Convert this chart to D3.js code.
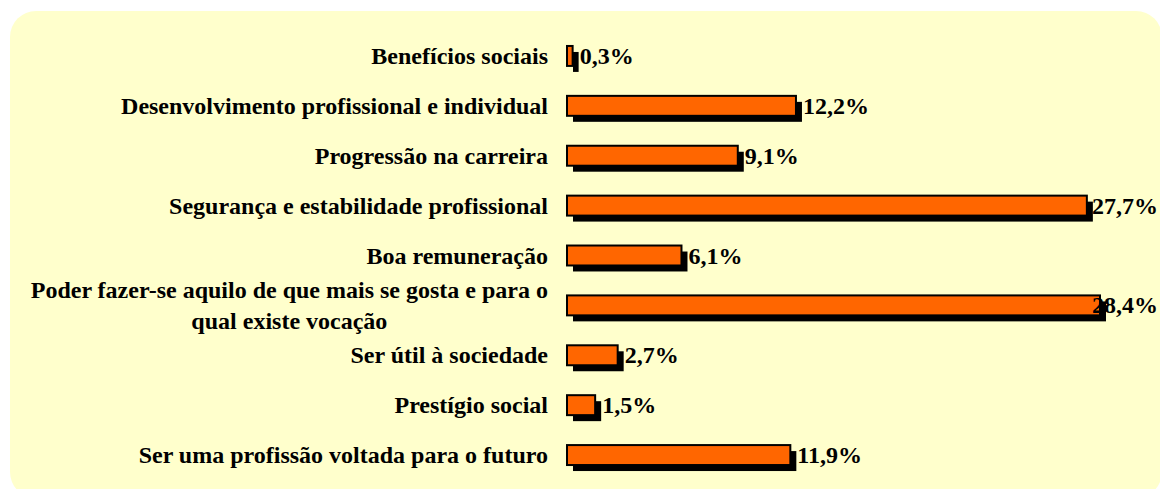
<!DOCTYPE html>
<html>
<head>
<meta charset="utf-8">
<script src="https://cdn.jsdelivr.net/npm/d3@7"></script>
<style>
    body { margin: 0; background: #fff; }
    svg { display: block; }
</style>
</head>
<body>
<div id="chart"></div>
<script>
// data
const categories = [
    'Benefícios sociais',
    'Desenvolvimento profissional e individual',
    'Progressão na carreira',
    'Segurança e estabilidade profissional',
    'Boa remuneração',
    'Poder fazer-se aquilo de que mais se gosta e para o\nqual existe vocação',
    'Ser útil à sociedade',
    'Prestígio social',
    'Ser uma profissão voltada para o futuro'
];
const values = [0.3, 12.2, 9.1, 27.7, 6.1, 28.4, 2.7, 1.5, 11.9];

const width = 1160;
const height = 489;
const font = '"Liberation Serif", "Times New Roman", serif';
const fontSize = 24;

const svg = d3.select('#chart').append('svg')
    .attr('width', width)
    .attr('height', height);

// panel
svg.append('rect')
    .attr('x', 10)
    .attr('y', 11)
    .attr('width', 1152)
    .attr('height', 487)
    .attr('rx', 26)
    .attr('ry', 26)
    .attr('fill', '#FFFFCC');

const x = d3.scaleLinear()
    .domain([0, d3.max(values)])
    .range([567, 1100]);

const y = d3.scaleBand()
    .domain(categories)
    .range([31, 480])
    .paddingInner(0.6)
    .paddingOuter(0.3);

const rows = categories.map((c, i) => ({ cat: c, value: values[i] }));

const shadowOff = 6;

// shadows
svg.selectAll('.shadow')
    .data(rows)
    .enter()
    .append('rect')
    .attr('class', 'shadow')
    .attr('x', x(0) + shadowOff)
    .attr('y', d => y(d.cat) + shadowOff)
    .attr('width', d => x(d.value) - x(0))
    .attr('height', y.bandwidth())
    .attr('fill', '#000');

// bars
svg.selectAll('.bar')
    .data(rows)
    .enter()
    .append('rect')
    .attr('class', 'bar')
    .attr('x', x(0))
    .attr('y', d => y(d.cat))
    .attr('width', d => x(d.value) - x(0))
    .attr('height', y.bandwidth())
    .attr('fill', '#FF6600')
    .attr('stroke', '#000')
    .attr('stroke-width', 2);

// category labels
rows.forEach(d => {
    const lines = d.cat.split('\n');
    const cy = y(d.cat) + y.bandwidth() / 2;
    const g = svg.append('g');
    if (lines.length === 1) {
        g.append('text')
            .attr('x', 548)
            .attr('y', cy + 8)
            .attr('text-anchor', 'end')
            .style('font-family', font)
            .style('font-weight', 'bold')
            .style('font-size', fontSize + 'px')
            .text(lines[0]);
    } else {
        const lh = 31;
        const first = g.append('text')
            .style('font-family', font)
            .style('font-weight', 'bold')
            .style('font-size', fontSize + 'px')
            .text(lines[0]);
        const w = first.node().getComputedTextLength();
        const mid = 548 - w / 2;
        first.remove();
        lines.forEach((line, i) => {
            g.append('text')
                .attr('x', mid)
                .attr('y', cy + 8 - lh / 2 + i * lh)
                .attr('text-anchor', 'middle')
                .style('font-family', font)
                .style('font-weight', 'bold')
                .style('font-size', fontSize + 'px')
                .text(line);
        });
    }
});

// value labels
const fmt = v => v.toFixed(1).replace('.', ',') + '%';
rows.forEach(d => {
    const t = svg.append('text')
        .attr('y', y(d.cat) + y.bandwidth() / 2 + 8)
        .style('font-family', font)
        .style('font-weight', 'bold')
        .style('font-size', fontSize + 'px')
        .text(fmt(d.value));
    const w = t.node().getComputedTextLength();
    t.attr('x', Math.min(x(d.value) + 7, 1158 - w));
});
</script>
</body>
</html>
